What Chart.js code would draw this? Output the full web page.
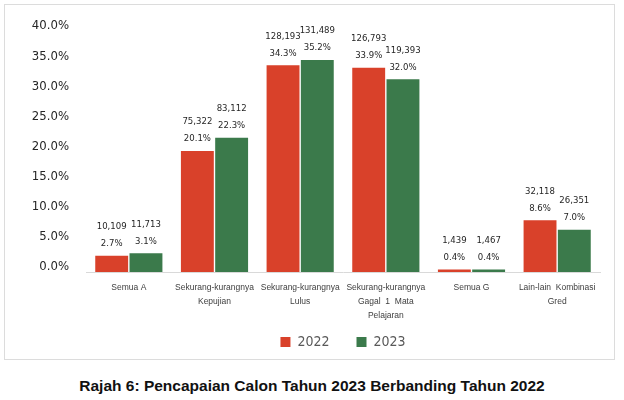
<!DOCTYPE html>
<html>
<head>
<meta charset="utf-8">
<script src="https://cdn.jsdelivr.net/npm/chart.js@4"></script>
<style>
  body { margin: 0; background: #fff; width: 624px; height: 400px; position: relative; }
  .box { position: absolute; left: 4px; top: 4px; width: 609px; height: 354px; border: 1px solid #dcdcdc; }
  .box canvas { display: block; }
  .caption { position: absolute; left: 0; top: 377px; width: 624px; text-align: center;
    font: bold 15.5px "Liberation Sans", Arial, sans-serif; color: #111; }
</style>
</head>
<body>
<div class="box"><canvas id="chart" width="609" height="354"></canvas></div>
<div class="caption">Rajah 6: Pencapaian Calon Tahun 2023 Berbanding Tahun 2022</div>
<script>
const categories = [
  "Semua A",
  ["Sekurang-kurangnya", "Kepujian"],
  ["Sekurang-kurangnya", "Lulus"],
  ["Sekurang-kurangnya", "Gagal  1  Mata", "Pelajaran"],
  "Semua G",
  ["Lain-lain  Kombinasi", "Gred"]
];
const years = ["2022", "2023"];
const pct2022 = [2.7, 20.1, 34.3, 33.9, 0.4, 8.6];
const pct2023 = [3.1, 22.3, 35.2, 32.0, 0.4, 7.0];
const count2022 = ["10,109", "75,322", "128,193", "126,793", "1,439", "32,118"];
const count2023 = ["11,713", "83,112", "131,489", "119,393", "1,467", "26,351"];
const counts = [count2022, count2023];

const narrow = '"DejaVu Sans Condensed", "DejaVu Sans", sans-serif';

// two-line labels above each bar: count, then percent
const barLabels = {
  id: 'barLabels',
  afterDatasetsDraw(chart) {
    const ctx = chart.ctx;
    ctx.save();
    ctx.font = '9.5px ' + narrow;
    ctx.fillStyle = '#262626';
    ctx.textAlign = 'center';
    ctx.textBaseline = 'middle';
    chart.data.datasets.forEach((ds, i) => {
      chart.getDatasetMeta(i).data.forEach((bar, j) => {
        ctx.fillText(ds.data[j].toFixed(1) + '%', bar.x, bar.y - 12);
        ctx.fillText(counts[i][j], bar.x, bar.y - 29);
      });
    });
    ctx.restore();
  }
};

new Chart(document.getElementById('chart'), {
  type: 'bar',
  data: {
    labels: categories,
    datasets: [
      { label: years[0], data: pct2022, backgroundColor: '#d9412a' },
      { label: years[1], data: pct2023, backgroundColor: '#3b7a4b' }
    ]
  },
  options: {
    responsive: false,
    animation: false,
    datasets: { bar: { categoryPercentage: 0.8, barPercentage: 0.96 } },
    layout: { padding: { top: 26, right: 14, left: 0, bottom: 0 } },
    scales: {
      x: {
        grid: { display: false, drawTicks: false },
        border: { color: '#d9d9d9' },
        ticks: {
          color: '#404040',
          font: { family: '"Liberation Sans", Arial, sans-serif', size: 8.5, lineHeight: 1.65 },
          padding: 9,
          maxRotation: 0,
          autoSkip: false
        },
        afterFit(scale) { scale.height = 52; }
      },
      y: {
        min: 0,
        max: 40,
        grid: { display: false, drawTicks: false },
        border: { display: false },
        ticks: {
          stepSize: 5,
          color: '#262626',
          font: { family: narrow, size: 13 },
          padding: 17,
          labelOffset: -5,
          callback: v => v.toFixed(1) + '%'
        },
        afterFit(scale) { scale.width = 81; }
      }
    },
    plugins: {
      legend: {
        position: 'bottom',
        fullSize: false,
        labels: {
          boxWidth: 10,
          boxHeight: 10,
          padding: 11,
          color: '#595959',
          font: { family: narrow, size: 14 },
          generateLabels(chart) {
            const items = Chart.defaults.plugins.legend.labels.generateLabels(chart);
            items[0].text += '    ';
            return items;
          }
        }
      },
      tooltip: { enabled: false }
    }
  },
  plugins: [barLabels]
});
</script>
</body>
</html>
